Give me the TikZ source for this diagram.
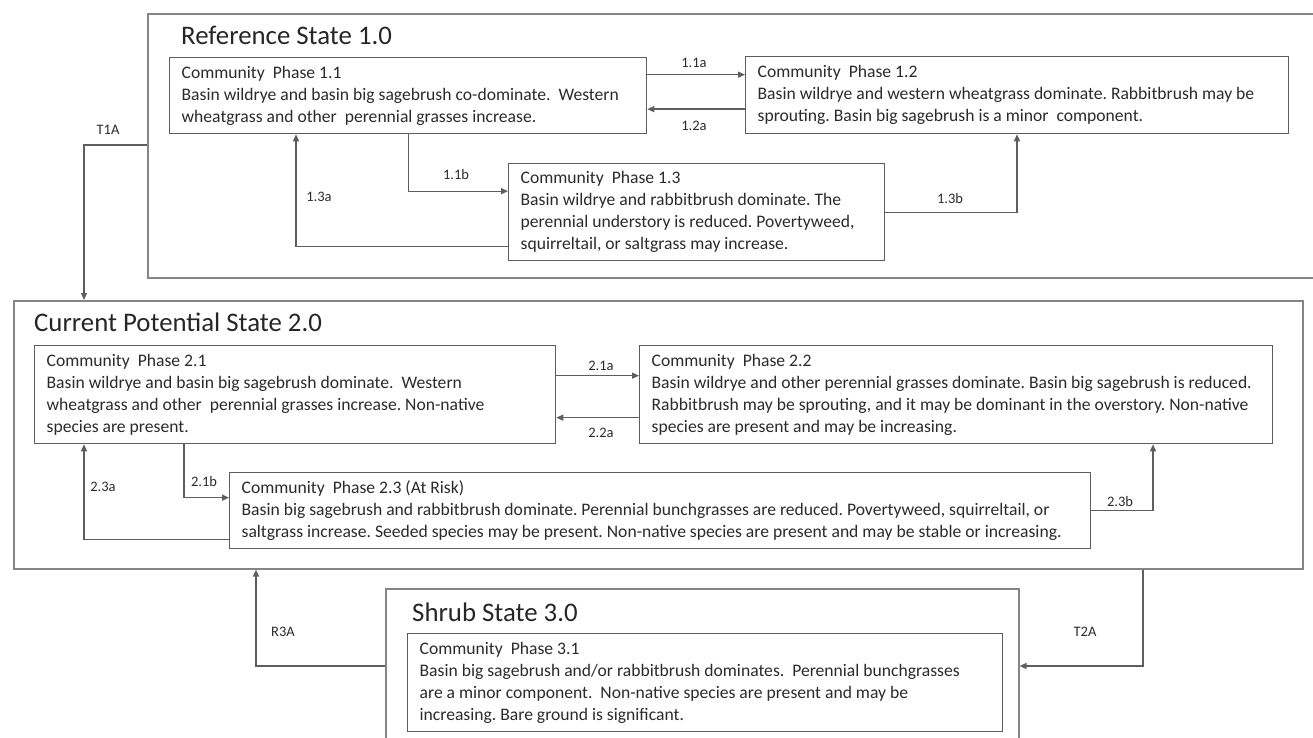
\documentclass[tikz,border=0pt]{standalone}
\usepackage{fontspec}
\setmainfont{Carlito}
\usetikzlibrary{positioning,arrows.meta,calc}

\definecolor{linegray}{HTML}{5E5E5E}
\definecolor{boxgray}{HTML}{858585}
\definecolor{txtgray}{HTML}{2B2B2B}

\begin{document}
\frenchspacing
\begin{tikzpicture}[
  x=1pt,y=-1pt,
  font=\fontsize{17.6}{22}\selectfont,
  text=txtgray,
  state/.style={rectangle,draw=boxgray,line width=1.6pt,anchor=north west,inner sep=0pt},
  phase/.style={rectangle,draw=linegray,line width=1.3pt,anchor=north west,align=flush left,
                text width=#1,inner xsep=12pt,inner ysep=0pt},
  ttl/.style={anchor=west,font=\fontsize{26.8}{30}\selectfont,text=black!85,inner sep=0pt},
  lbl/.style={font=\fontsize{14.5}{17}\selectfont,inner sep=1pt},
  arr/.style={-{Triangle[length=7pt,width=6pt]},line width=1.3pt,draw=linegray},
]
\clip (0,0) rectangle (1313,738);
\fill[white] (0,0) rectangle (1313,738);

% state boxes
\node[state,minimum width=1200pt,minimum height=264pt] (ref) at (147,13) {};
\node[state,minimum width=1289pt,minimum height=268pt] (cur) at (13,300) {};
\node[state,minimum width=633pt,minimum height=170pt]  (shrub) at (385,588) {};

\node[ttl] (reft) at (181,35) {Reference State 1.0};
\node[ttl] (curt) at (34,322) {Current Potential State 2.0};
\node[ttl] (shrubt) at (412,612) {Shrub State 3.0};

% reference state phases
\node[phase=453pt,minimum height=76pt] (p11) at (169,57)
  {Community~ Phase 1.1\\Basin wildrye and basin big sagebrush co-dominate.~ Western\\wheatgrass and other~ perennial grasses increase.};
\node[phase=519pt,minimum height=77pt] (p12) at (745,56)
  {Community~ Phase 1.2\\Basin wildrye and western wheatgrass dominate. Rabbitbrush may be\\sprouting. Basin big sagebrush is a minor~ component.};
\node[phase=352pt,minimum height=97pt] (p13) at (508,163)
  {Community~ Phase 1.3\\Basin wildrye and rabbitbrush dominate. The\\perennial understory is reduced. Povertyweed,\\squirreltail, or saltgrass may increase.};

% current potential state phases
\node[phase=497pt,minimum height=98pt] (p21) at (34,345)
  {Community~ Phase 2.1\\Basin wildrye and basin big sagebrush dominate.~ Western\\wheatgrass and other~ perennial grasses increase. Non-native\\species are present.};
\node[phase=609pt,minimum height=98pt] (p22) at (639,345)
  {Community~ Phase 2.2\\Basin wildrye and other perennial grasses dominate. Basin big sagebrush is reduced.\\Rabbitbrush may be sprouting, and it may be dominant in the overstory. Non-native\\species are present and may be increasing.};
\node[phase=837pt,minimum height=76pt] (p23) at (229,472)
  {Community~ Phase 2.3 (At Risk)\\Basin big sagebrush and rabbitbrush dominate. Perennial bunchgrasses are reduced. Povertyweed, squirreltail, or\\saltgrass increase. Seeded species may be present. Non-native species are present and may be stable or increasing.};

% shrub state phase
\node[phase=571pt,minimum height=98pt] (p31) at (407,633)
  {Community~ Phase 3.1\\Basin big sagebrush and/or rabbitbrush dominates.~ Perennial bunchgrasses\\are a minor component.~ Non-native species are present and may be\\increasing. Bare ground is significant.};

% transitions within state 1
\draw[arr] ([yshift=21pt]p11.east) -- ([yshift=21pt]p11.east -| p12.west);
\draw[arr] ([yshift=-14pt]p12.west) -- ([yshift=-14pt]p12.west -| p11.east);
\draw[arr] (p11.south) |- ([yshift=21pt]p13.west);
\draw[arr] ([yshift=-34pt]p13.west) -| ([xshift=127pt]p11.south west);
\draw[arr] (p13.east) -| ([xshift=272pt]p12.south west);

\node[lbl] (l11a) at (694,63) {1.1a};
\node[lbl] (l12a) at (694,126) {1.2a};
\node[lbl] (l11b) at (456,175) {1.1b};
\node[lbl] (l13a) at (319,197) {1.3a};
\node[lbl] (l13b) at (950,199) {1.3b};

% transitions within state 2
\draw[arr] ([yshift=19pt]p21.east) -- ([yshift=19pt]p21.east -| p22.west);
\draw[arr] ([yshift=-23pt]p22.west) -- ([yshift=-23pt]p22.west -| p21.east);
\draw[arr] ([xshift=150pt]p21.south west) |- ([yshift=13pt]p23.west);
\draw[arr] ([yshift=-29pt]p23.west) -| ([xshift=50pt]p21.south west);
\draw[arr] (p23.east) -| ([xshift=514pt]p22.south west);

\node[lbl] (l21a) at (601,366) {2.1a};
\node[lbl] (l22a) at (601,433) {2.2a};
\node[lbl] (l21b) at (204,482) {2.1b};
\node[lbl] (l23a) at (103,487) {2.3a};
\node[lbl] (l23b) at (1120,502) {2.3b};

% state transitions
\draw[arr] ([yshift=-132pt]ref.north west) -| ([xshift=71pt]cur.north west);
\draw[arr] ([yshift=-78pt]shrub.north west) -| ([xshift=243pt]cur.south west);
\draw[arr] ([xshift=1130pt]cur.south west) |- ([yshift=-78pt]shrub.north east);

\node[lbl] (t1a) at (108,130) {T1A};
\node[lbl] (r3a) at (283,632) {R3A};
\node[lbl] (t2a) at (1085,632) {T2A};
\end{tikzpicture}
\end{document}
